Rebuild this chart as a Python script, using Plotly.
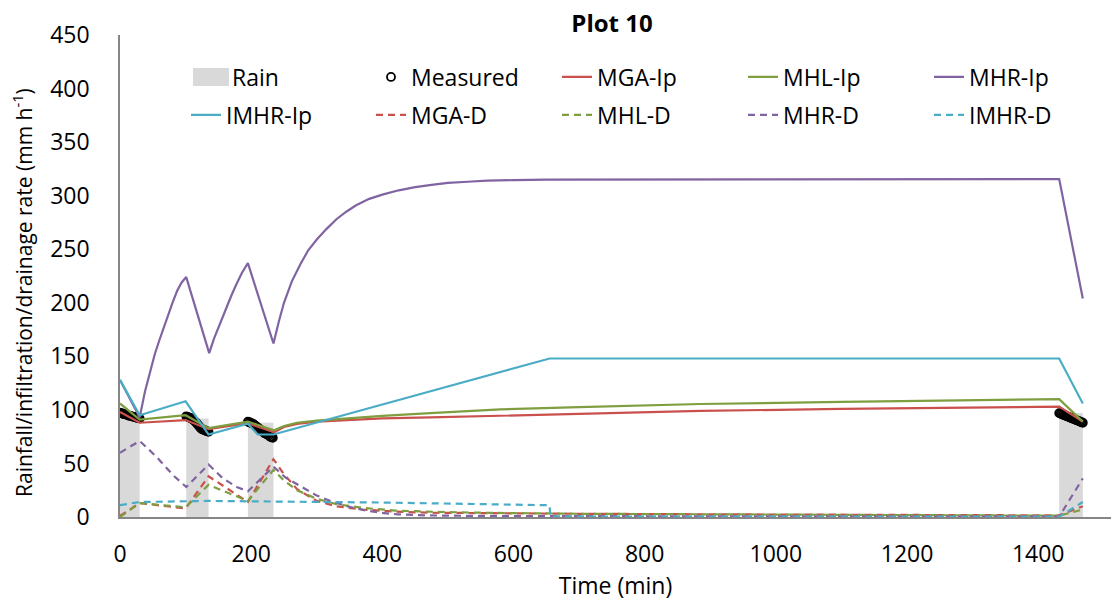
import plotly.graph_objects as go

# ---------------- data ----------------
rain_start = [0, 101, 195, 1432]
rain_end = [30, 135, 234, 1468]
rain_rate = [98, 92, 88, 97]

meas_t = [0, 2, 4, 6, 8, 10, 12, 14, 16, 18, 20, 22, 24, 26, 28, 30,
          101, 103, 105, 107, 109, 111, 113, 115, 117, 119, 121, 123, 125, 127, 129, 131, 133, 135,
          195, 197, 199, 201, 203, 205, 207, 209, 211, 213, 215, 217, 219, 221, 223, 225, 227, 229, 231, 233,
          1432, 1434, 1436, 1438, 1440, 1442, 1444, 1446, 1448, 1450, 1452, 1454, 1456, 1458, 1460, 1462, 1464, 1466, 1468]
meas_v = [97.5, 97, 96.5, 96, 96, 95.5, 95, 94.5, 94.5, 94, 93.5, 93.5, 93, 92.5, 92.5, 92,
          94, 93.5, 93, 92.5, 92, 91, 90, 89, 87.5, 86, 84.5, 83, 82, 81.5, 81, 80.5, 80, 79.5,
          89, 88.5, 88, 87.5, 87, 86, 85, 84, 83, 82, 81, 80, 79, 78, 77.5, 77, 76, 75, 74.5, 74,
          97, 96.5, 96, 95.5, 95, 94.5, 94, 93.5, 93, 92.5, 92, 91.5, 91, 90.5, 90, 89.5, 89, 88.5, 88]

mga_ip_t = [0, 30, 100, 135, 195, 235, 250, 270, 300, 350, 400, 473, 580, 700, 885, 1100, 1300, 1432, 1468]
mga_ip_v = [98, 88, 90.5, 82, 87.5, 79, 84, 87, 89, 90.5, 92, 93, 94.5, 96.5, 99, 101, 102.5, 103, 89]

mhl_ip_t = [0, 30, 100, 135, 195, 235, 250, 270, 300, 350, 400, 473, 580, 700, 885, 1100, 1300, 1432, 1468]
mhl_ip_v = [106, 91, 95, 83, 89, 81, 85, 88, 90, 92.5, 94.5, 97, 100.5, 102.5, 105.5, 107.5, 109, 110, 89]

mhr_ip_t = [0, 30, 38, 46, 53, 60, 66, 72, 80, 87, 94, 101, 136, 143, 150, 157, 163, 170, 178, 186, 195, 234,
            242, 250, 262, 275, 287, 300, 315, 330, 345, 360, 380, 400, 425, 450, 475, 500, 530, 560, 600, 650, 1432, 1468]
mhr_ip_v = [128, 93, 117, 137, 152, 165, 176, 187, 200, 211, 219, 224, 153, 166, 177, 187, 196, 207, 218, 228, 237, 162,
            182, 200, 220, 236, 249, 259, 269, 278, 285, 291, 297, 301, 305, 308, 310, 312, 313, 314, 314.5, 315, 315.5, 204]

imhr_ip_t = [0, 30, 100, 135, 195, 210, 234, 655, 1432, 1468]
imhr_ip_v = [128, 95, 108, 77, 87, 77, 77, 148, 148, 106]

mga_d_t = [0, 30, 100, 135, 195, 234, 250, 270, 300, 330, 370, 420, 470, 550, 700, 900, 1100, 1300, 1432, 1468]
mga_d_v = [1, 13, 8, 38, 14, 54, 40, 26, 15, 10, 7, 5, 4, 3.5, 3, 2.5, 2, 1.8, 1.5, 10]

mhl_d_t = [0, 30, 100, 135, 195, 234, 250, 270, 300, 330, 370, 420, 470, 550, 700, 900, 1100, 1300, 1432, 1468]
mhl_d_v = [0, 13, 9, 30, 15, 44, 34, 25, 17, 12, 8.5, 6, 5, 4, 3, 2.5, 2, 1.5, 1.2, 7]

mhr_d_t = [0, 30, 56, 81, 101, 135, 157, 178, 195, 234, 252, 278, 300, 321, 346, 371, 397, 423, 470, 550, 700, 1000, 1432, 1468]
mhr_d_v = [60, 71, 56, 39, 28, 49, 36, 28, 24, 47, 37, 28, 20, 15, 10, 6.5, 4, 2.5, 1.5, 1, 0.7, 0.5, 0.3, 36]

imhr_d_t = [0, 30, 135, 234, 400, 655, 656, 1432, 1468]
imhr_d_v = [11, 14, 15, 14.5, 13.5, 11, 0.5, 0.3, 14]

x_ticks = [0, 200, 400, 600, 800, 1000, 1200, 1400]
y_ticks = [0, 50, 100, 150, 200, 250, 300, 350, 400, 450]

# ---------------- styling ----------------
RED = "#C9504C"
GREEN = "#7E9E3F"
PURPLE = "#8064A2"
CYAN = "#4BACC6"
RAIN = "#D9D9D9"
FONT = "Open Sans"
FS = 23

W, H = 1111, 603
L, T, B = 120, 35, 86
PW, PH = W - L, H - T - B


def px_x(px):
    return (px - L) / PW


def px_y(py):
    return (H - B - py) / PH


rain_mid = [(s + e) / 2 for s, e in zip(rain_start, rain_end)]
rain_w = [e - s for s, e in zip(rain_start, rain_end)]

fig = go.Figure()
fig.add_trace(go.Bar(x=rain_mid, y=rain_rate, width=rain_w, name="Rain",
                     marker=dict(color=RAIN, line=dict(width=0))))
fig.add_trace(go.Scatter(x=meas_t, y=meas_v, mode="markers", name="Measured",
                         marker=dict(symbol="circle-open", size=8, color="black",
                                     line=dict(width=1.8, color="black"))))


def line(t, v, name, color, dash=None):
    fig.add_trace(go.Scatter(x=t, y=v, mode="lines", name=name,
                             line=dict(color=color, width=2.2, dash=dash)))


line(mga_ip_t, mga_ip_v, "MGA-Ip", RED)
line(mhl_ip_t, mhl_ip_v, "MHL-Ip", GREEN)
line(mhr_ip_t, mhr_ip_v, "MHR-Ip", PURPLE)
line(imhr_ip_t, imhr_ip_v, "IMHR-Ip", CYAN)
line(mga_d_t, mga_d_v, "MGA-D", RED, "7px,5px")
line(mhl_d_t, mhl_d_v, "MHL-D", GREEN, "7px,5px")
line(mhr_d_t, mhr_d_v, "MHR-D", PURPLE, "7px,5px")
line(imhr_d_t, imhr_d_v, "IMHR-D", CYAN, "7px,5px")

# one legend box per entry, laid out as a 5 x 2 grid like the reference
col_px = [186, 371, 557, 743, 929]
row_px = [77, 115]
legends = {}
for i, tr in enumerate(fig.data):
    key = "legend" if i == 0 else f"legend{i + 1}"
    tr.legend = key
    x_px = col_px[i % 5] + (6 if i == 0 else 0)
    legends[key] = dict(x=px_x(x_px), xanchor="left",
                        y=px_y(row_px[i // 5]), yanchor="middle",
                        orientation="h", bgcolor="rgba(0,0,0,0)",
                        font=dict(family=FONT, size=FS, color="black"))

fig.update_layout(
    width=W, height=H,
    margin=dict(l=L, r=0, t=T, b=B),
    paper_bgcolor="white", plot_bgcolor="white",
    font=dict(family=FONT, size=FS, color="black"),
    showlegend=True,
    barmode="overlay",
    title=dict(text="<b>Plot 10</b>", font=dict(family=FONT, size=24, color="black"),
               x=612 / W, xanchor="center", xref="container",
               y=1 - 24 / H, yanchor="middle", yref="container"),
    xaxis=dict(range=[0, 1511], tickvals=x_ticks, ticks="", showgrid=False, zeroline=False,
               showline=True, linecolor="#868686", linewidth=1.5,
               ticklabelstandoff=16,
               tickfont=dict(family=FONT, size=FS, color="black"),
               title=dict(text="Time (min)", font=dict(family=FONT, size=FS, color="black"),
                          standoff=6)),
    yaxis=dict(range=[0, 450], tickvals=y_ticks, ticks="", showgrid=False, zeroline=False,
               showline=True, linecolor="#868686", linewidth=1.5,
               ticklabelstandoff=24,
               tickfont=dict(family=FONT, size=FS, color="black")),
    annotations=[dict(text="Rainfall/infiltration/drainage rate (mm h<sup>-1</sup>)",
                      textangle=-90, xref="paper", yref="paper",
                      x=px_x(22), y=px_y(293),
                      xanchor="center", yanchor="middle", showarrow=False,
                      font=dict(family=FONT, size=21, color="black"))],
    shapes=[dict(type="rect", xref="paper", yref="paper",
                 x0=px_x(193), x1=px_x(229), y0=px_y(86), y1=px_y(68),
                 fillcolor=RAIN, line=dict(width=0), layer="above")],
    **legends,
)

fig.write_html("out.html")
